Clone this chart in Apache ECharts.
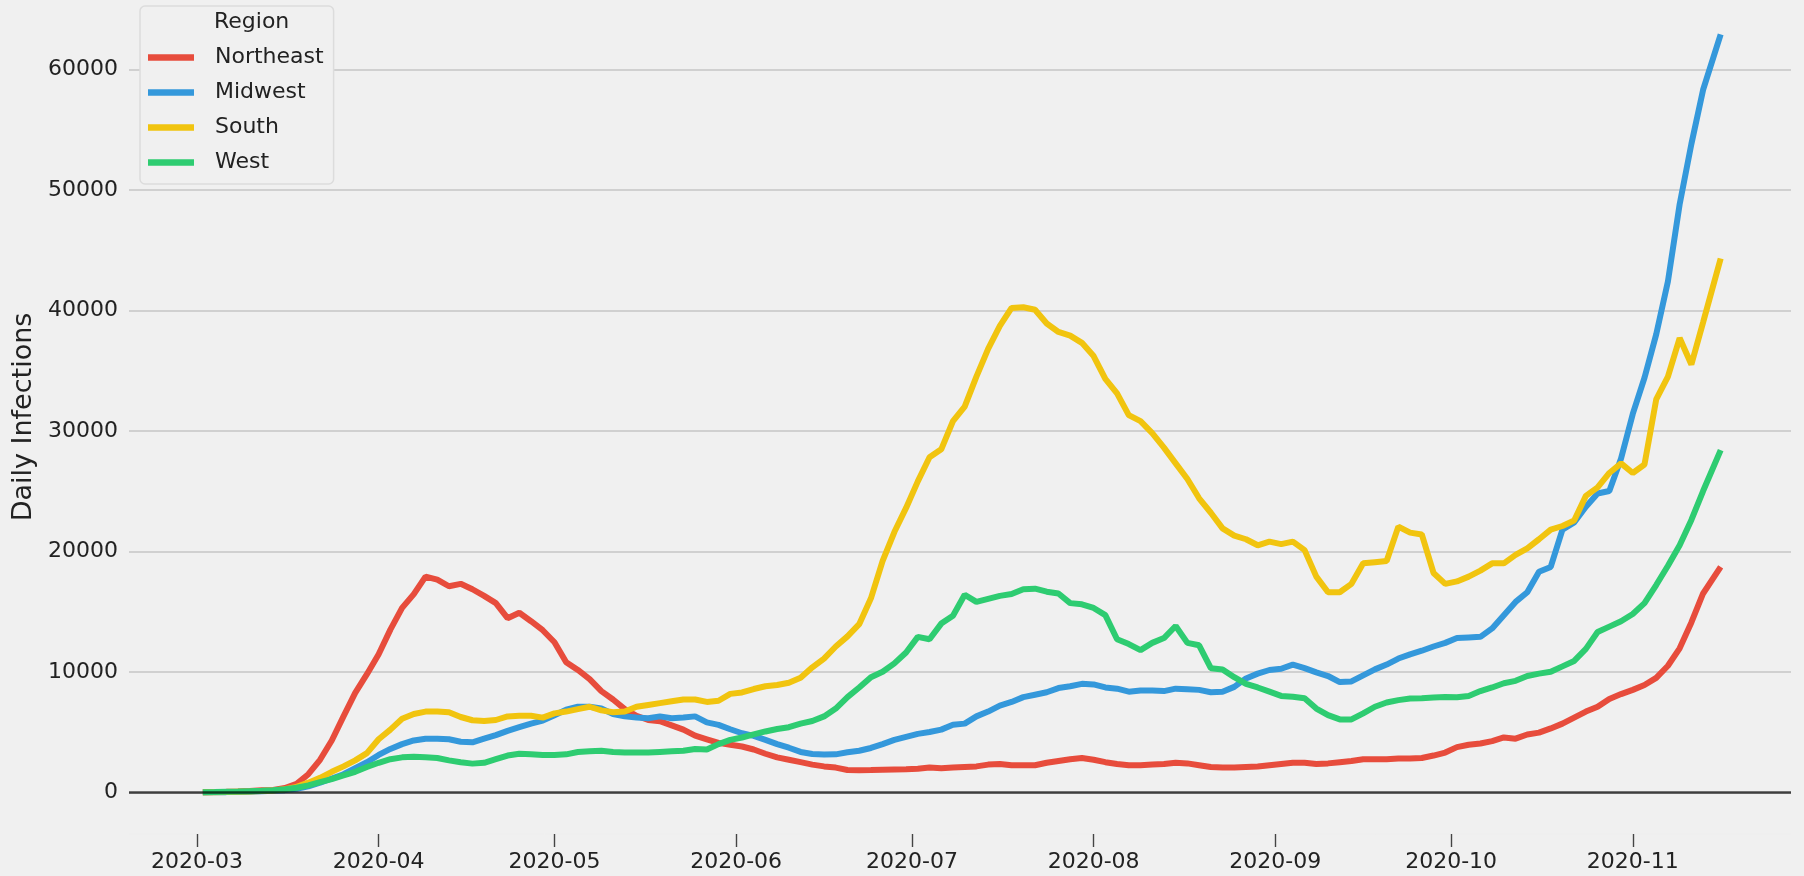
<!DOCTYPE html>
<html>
<head>
<meta charset="utf-8">
<script src="https://cdn.jsdelivr.net/npm/echarts@6.0.0/dist/echarts.min.js"></script>
<style>
  html, body { margin: 0; padding: 0; background: #f0f0f0; }
  #chart { width: 1804px; height: 876px; }
</style>
</head>
<body>
<div id="chart"></div>
<script>
// days counted from 2020-03-01
const days = [1, 3, 5, 7, 9, 11, 13, 15, 17, 19, 21, 23, 25, 27, 29, 31, 33, 35, 37, 39,
  41, 43, 45, 47, 49, 51, 53, 55, 57, 59, 61, 63, 65, 67, 69, 71, 73, 75, 77, 79,
  81, 83, 85, 87, 89, 91, 93, 95, 97, 99, 101, 103, 105, 107, 109, 111, 113, 115, 117, 119,
  121, 123, 125, 127, 129, 131, 133, 135, 137, 139, 141, 143, 145, 147, 149, 151, 153, 155, 157, 159,
  161, 163, 165, 167, 169, 171, 173, 175, 177, 179, 181, 183, 185, 187, 189, 191, 193, 195, 197, 199,
  201, 203, 205, 207, 209, 211, 213, 215, 217, 219, 221, 223, 225, 227, 229, 231, 233, 235, 237, 239,
  241, 243, 245, 247, 249, 251, 253, 255, 257, 260];

const northeast = [10, 20, 40, 70, 110, 170, 200, 350, 700, 1500, 2700, 4300, 6300, 8250, 9800, 11450, 13500, 15300, 16450, 17900,
  17650, 17100, 17300, 16850, 16300, 15700, 14450, 14900, 14200, 13450, 12450, 10800, 10150, 9400, 8400, 7700, 6900, 6350, 6000, 5900,
  5550, 5200, 4700, 4400, 4100, 3950, 3800, 3550, 3200, 2900, 2700, 2500, 2300, 2150, 2050, 1850, 1830, 1850, 1880, 1900,
  1920, 1950, 2050, 2000, 2050, 2100, 2150, 2300, 2350, 2250, 2250, 2250, 2450, 2600, 2750, 2850, 2700, 2500, 2350, 2250,
  2250, 2300, 2350, 2450, 2400, 2250, 2100, 2050, 2050, 2100, 2150, 2250, 2350, 2450, 2450, 2350, 2400, 2500, 2600, 2750,
  2750, 2750, 2800, 2800, 2850, 3050, 3300, 3750, 3950, 4050, 4250, 4550, 4450, 4800, 4950, 5300, 5700, 6200, 6700, 7100,
  7750, 8150, 8500, 8900, 9500, 10500, 11950, 14100, 16500, 18700];

const midwest = [5, 10, 15, 30, 50, 80, 120, 180, 300, 500, 800, 1150, 1500, 2000, 2500, 3100, 3600, 4000, 4300, 4450,
  4450, 4400, 4200, 4150, 4450, 4750, 5100, 5400, 5700, 5950, 6400, 6850, 7100, 7100, 6950, 6500, 6300, 6200, 6150, 6300,
  6150, 6200, 6300, 5800, 5600, 5230, 4900, 4680, 4350, 4000, 3700, 3350, 3180, 3130, 3150, 3320, 3450, 3680, 4000, 4350,
  4600, 4850, 5000, 5200, 5600, 5700, 6300, 6700, 7200, 7500, 7900, 8100, 8300, 8650, 8800, 9000, 8950, 8700, 8600, 8350,
  8450, 8450, 8400, 8600, 8550, 8500, 8300, 8350, 8750, 9450, 9850, 10150, 10250, 10600, 10300, 9950, 9650, 9150, 9200, 9700,
  10200, 10600, 11100, 11450, 11750, 12100, 12400, 12800, 12850, 12900, 13600, 14700, 15800, 16600, 18300, 18700, 21800, 22400, 23700, 24800,
  25000, 27700, 31400, 34400, 38000, 42400, 48800, 53800, 58300, 62900];

const south = [5, 10, 20, 40, 60, 100, 150, 250, 450, 800, 1200, 1700, 2150, 2650, 3250, 4400, 5200, 6100, 6500, 6700,
  6700, 6650, 6250, 5980, 5920, 6000, 6300, 6350, 6350, 6200, 6550, 6700, 6900, 7100, 6800, 6650, 6700, 7100, 7250, 7400,
  7550, 7700, 7700, 7500, 7600, 8170, 8290, 8570, 8800, 8900, 9090, 9500, 10370, 11100, 12100, 12940, 13950, 16100, 19200, 21600,
  23600, 25800, 27800, 28460, 30800, 32000, 34500, 36800, 38700, 40200, 40250, 40050, 38900, 38200, 37900, 37300, 36200, 34300, 33100, 31300,
  30800, 29800, 28600, 27300, 26000, 24400, 23200, 21900, 21300, 21000, 20500, 20800, 20600, 20800, 20100, 17900, 16600, 16600, 17300, 19000,
  19100, 19200, 22050, 21550, 21400, 18200, 17300, 17500, 17900, 18400, 19000, 19000, 19700, 20250, 21000, 21800, 22100, 22550, 24600, 25300,
  26500, 27300, 26500, 27200, 32600, 34500, 37700, 35500, 39000, 44300];

const west = [10, 20, 40, 60, 90, 120, 170, 250, 380, 580, 850, 1100, 1400, 1700, 2100, 2450, 2750, 2900, 2950, 2900,
  2850, 2650, 2500, 2380, 2450, 2750, 3050, 3200, 3150, 3100, 3100, 3150, 3350, 3400, 3450, 3350, 3300, 3300, 3300, 3350,
  3400, 3450, 3600, 3550, 4000, 4350, 4550, 4800, 5050, 5250, 5400, 5700, 5920, 6300, 6950, 7900, 8700, 9550, 10000, 10700,
  11600, 12900, 12700, 14000, 14650, 16400, 15800, 16050, 16300, 16450, 16850, 16900, 16650, 16500, 15700, 15600, 15300, 14700, 12700, 12300,
  11800, 12400, 12800, 13800, 12400, 12200, 10300, 10200, 9550, 9000, 8700, 8350, 8000, 7930, 7800, 6950, 6400, 6050, 6050, 6550,
  7100, 7450, 7650, 7780, 7800, 7860, 7900, 7880, 8000, 8400, 8700, 9050, 9250, 9650, 9850, 10000, 10450, 10900, 11900, 13300,
  13750, 14200, 14800, 15700, 17200, 18800, 20500, 22600, 25000, 28400];

const monthDays = [0, 31, 61, 92, 122, 153, 184, 214, 245];
const monthLabels = ["2020-03", "2020-04", "2020-05", "2020-06", "2020-07", "2020-08", "2020-09", "2020-10", "2020-11"];
const yTicks = [0, 10000, 20000, 30000, 40000, 50000, 60000];

const regions = ["Northeast", "Midwest", "South", "West"];
const colors = ["#e74c3c", "#3498db", "#f1c40f", "#2ecc71"];
const values = [northeast, midwest, south, west];

const font = "DejaVu Sans";
const textColor = "#222";

const series = regions.map((name, i) => ({
  name: name,
  type: "line",
  symbol: "none",
  showSymbol: false,
  smooth: false,
  data: days.map((d, j) => [d, values[i][j]]),
  lineStyle: { width: 6, color: colors[i], cap: "butt" },
  itemStyle: { color: colors[i] },
}));

// black zero line on top of the lines, as in the original
series[3].markLine = {
  silent: true,
  symbol: ["none", "none"],
  label: { show: false },
  lineStyle: { color: "rgba(0,0,0,0.7)", width: 2.6, type: "solid" },
  data: [{ yAxis: 0 }],
};

const cfg = {
  animation: false,
  backgroundColor: "#f0f0f0",
  color: colors,
  grid: { left: 129, right: 13, top: 0, bottom: 42 },
  title: {
    text: "Region",
    left: 214,
    top: 11,
    padding: 0,
    textStyle: { fontFamily: font, fontSize: 22, fontWeight: "normal", color: textColor },
  },
  legend: {
    data: regions,
    orient: "vertical",
    left: 140,
    top: 6,
    padding: [39, 10, 9, 8],
    itemGap: 10,
    itemWidth: 46,
    itemHeight: 6.5,
    icon: "rect",
    backgroundColor: "#f0f0f0",
    borderColor: "#dcdcdc",
    borderWidth: 1.5,
    borderRadius: 5,
    formatter: (name) => "{g|}" + name,
    textStyle: {
      fontFamily: font,
      fontSize: 22,
      color: textColor,
      lineHeight: 25,
      rich: { g: { width: 16 } },
    },
  },
  xAxis: {
    type: "value",
    min: -11.6,
    max: 272,
    position: "bottom",
    axisLine: { show: true, onZero: false, lineStyle: { color: "#f0f0f0", width: 0.1 } },
    splitLine: { show: false },
    axisTick: {
      show: true,
      customValues: monthDays,
      length: 13,
      lineStyle: { color: "#444", width: 1.4 },
    },
    axisLabel: {
      customValues: monthDays,
      margin: 17,
      fontFamily: font,
      fontSize: 22,
      color: textColor,
      formatter: (v) => monthLabels[monthDays.indexOf(v)],
    },
  },
  yAxis: {
    type: "value",
    min: -3460,
    max: 65750,
    name: "Daily Infections",
    nameLocation: "middle",
    nameGap: 88,
    nameTextStyle: { fontFamily: font, fontSize: 27, color: textColor },
    axisLine: { show: false },
    axisTick: { show: false, customValues: yTicks },
    splitLine: { show: true, lineStyle: { color: "#d0d0d0", width: 2 } },
    axisLabel: {
      customValues: yTicks,
      margin: 11,
      fontFamily: font,
      fontSize: 22,
      color: textColor,
      formatter: (v) => String(v),
    },
  },
  series: series,
};

const chart = echarts.init(document.getElementById("chart"));
chart.setOption(cfg);
</script>
</body>
</html>
